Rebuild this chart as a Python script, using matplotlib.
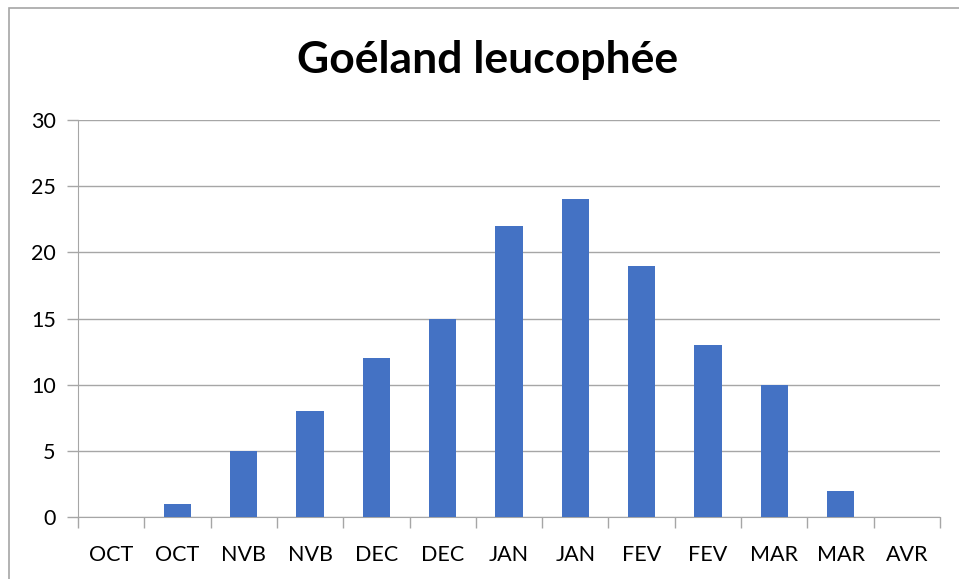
import matplotlib.pyplot as plt
from matplotlib.patches import Rectangle

mois = ["OCT", "OCT", "NVB", "NVB", "DEC", "DEC", "JAN", "JAN",
        "FEV", "FEV", "MAR", "MAR", "AVR"]
effectifs = [0, 1, 5, 8, 12, 15, 22, 24, 19, 13, 10, 2, 0]
yticks = [0, 5, 10, 15, 20, 25, 30]

plt.rcParams['font.family'] = ['Lato', 'DejaVu Sans']

fig = plt.figure(figsize=(9.59, 5.79), dpi=100)
ax = fig.add_axes([0.0813, 0.1071, 0.8989, 0.6856])

x = list(range(len(mois)))
ax.bar(x, effectifs, width=0.41, color='#4472C4', zorder=3)

ax.set_xlim(-0.5, len(mois) - 0.5)
ax.set_ylim(0, 30)
ax.set_yticks(yticks)
ax.set_yticklabels([str(v) for v in yticks], fontsize=15.5)
ax.yaxis.grid(True, color='#A6A6A6', linewidth=1, zorder=0)

ax.set_xticks(x)
ax.set_xticklabels(mois, fontsize=15.5)
ax.tick_params(axis='x', length=0, pad=20)
# petits traits entre les categories
ax.set_xticks([i - 0.5 for i in range(len(mois) + 1)], minor=True)
ax.tick_params(axis='x', which='minor', length=8, color='#A6A6A6', width=1)
ax.tick_params(axis='y', length=8, color='#A6A6A6', width=1, pad=8)

for s in ['top', 'right']:
    ax.spines[s].set_visible(False)
ax.spines['left'].set_color('#A6A6A6')
ax.spines['bottom'].set_color('#A6A6A6')

fig.text(0.508, 0.897, "Goéland leucophée", ha='center', va='center',
         fontsize=32, fontweight='bold')

# cadre du graphique
fig.patches.append(Rectangle((0.009, -0.01), 0.995, 0.996, transform=fig.transFigure,
                             fill=False, edgecolor='#A6A6A6', linewidth=1.2))

fig.savefig('out.png', dpi=100)
